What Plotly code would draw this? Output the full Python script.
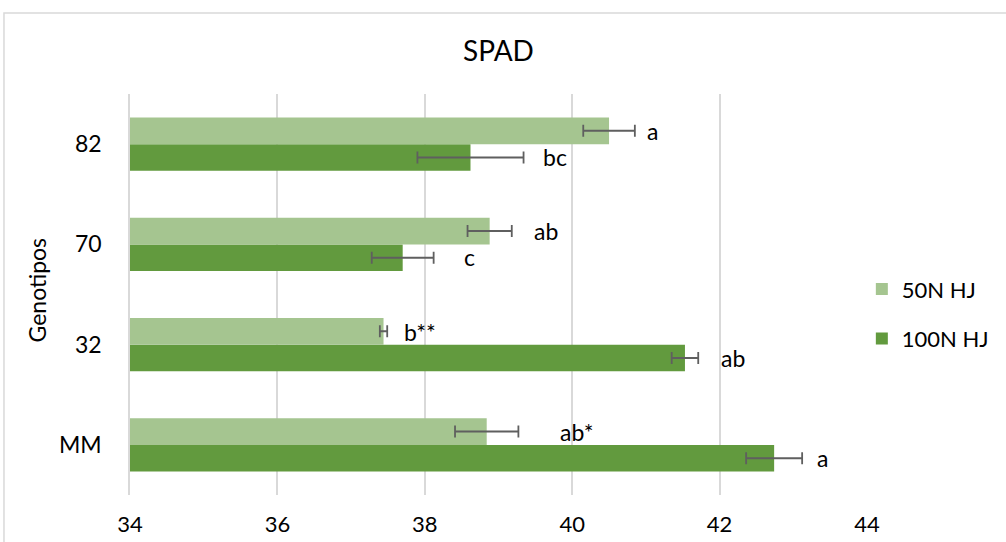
import plotly.graph_objects as go

# SPAD readings per genotype under two nitrogen treatments
genotypes = ["MM", "32", "70", "82"]
spad_50n = [38.84, 37.44, 38.88, 40.50]
spad_100n = [42.74, 41.53, 37.70, 38.62]
err_50n = [0.43, 0.05, 0.30, 0.35]
err_100n = [0.38, 0.18, 0.42, 0.72]
letters_50n = ["ab*", "b**", "ab", "a"]
letters_100n = ["a", "ab", "c", "bc"]
x_ticks = [34, 36, 38, 40, 42, 44]

FONT = "Lato, sans-serif"
LIGHT = "#A5C590"
DARK = "#629A3E"
ERR = "#5F5F5F"
GRID = "#D9D9D9"

fig = go.Figure()
fig.add_trace(go.Bar(
    y=genotypes, x=spad_100n, orientation="h", name="100N HJ",
    marker=dict(color=DARK, line=dict(width=0)), legendgroup="b", legendrank=2,
    error_x=dict(type="data", array=err_100n, color=ERR, thickness=1.8, width=6),
))
fig.add_trace(go.Bar(
    y=genotypes, x=spad_50n, orientation="h", name="50N HJ",
    marker=dict(color=LIGHT, line=dict(width=0)), legendgroup="a", legendrank=1,
    error_x=dict(type="data", array=err_50n, color=ERR, thickness=1.8, width=6),
))

# where each significance letter sits along the value axis
label_x_50n = [40.06, 37.93, 39.64, 41.09]
label_x_100n = [43.40, 42.18, 38.61, 39.77]
for i, (lx, t) in enumerate(zip(label_x_50n, letters_50n)):
    fig.add_annotation(x=lx, y=i, text=t, showarrow=False, yshift=13,
                       font=dict(family=FONT, size=23, color="#000000"))
for i, (lx, t) in enumerate(zip(label_x_100n, letters_100n)):
    fig.add_annotation(x=lx, y=i, text=t, showarrow=False, yshift=-13,
                       font=dict(family=FONT, size=23, color="#000000"))

fig.add_annotation(xref="paper", yref="paper", x=0, y=0.51, xshift=-93,
                   xanchor="center", yanchor="middle",
                   text="Genotipos", textangle=-90, showarrow=False,
                   font=dict(family=FONT, size=23, color="#000000"))

# outer chart frame
fig.add_shape(type="rect", xref="paper", yref="paper",
              x0=-0.171, x1=1.25, y0=-0.2, y1=1.202,
              line=dict(color=GRID, width=1.5), fillcolor="rgba(0,0,0,0)")

fig.update_layout(
    width=1006, height=542,
    margin=dict(l=130, r=139, t=94, b=47),
    paper_bgcolor="white", plot_bgcolor="white",
    barmode="group", bargap=0.467, bargroupgap=0,
    title=dict(text="SPAD", x=0.5, xref="paper", y=0.905, yref="container",
               xanchor="center", yanchor="middle",
               font=dict(family=FONT, size=28, color="#000000")),
    font=dict(family=FONT, color="#000000"),
    legend=dict(x=0.993, xanchor="left", y=0.451, yanchor="middle",
                traceorder="grouped", tracegroupgap=18,
                font=dict(family=FONT, size=22, color="#000000"),
                bgcolor="rgba(0,0,0,0)"),
    showlegend=True,
)
fig.update_xaxes(range=[34, 44], tickvals=x_ticks, showgrid=True, automargin=False,
                 gridcolor=GRID, gridwidth=1.5, zeroline=False, showline=False,
                 ticks="", ticklabelstandoff=14,
                 tickfont=dict(family=FONT, size=22, color="#000000"))
fig.update_yaxes(type="category", categoryorder="array", categoryarray=genotypes,
                 range=[-0.5, 3.5], autorange=False, automargin=False,
                 showgrid=False, zeroline=False, showline=True,
                 linecolor=GRID, linewidth=1.5, ticks="", ticklabelstandoff=22,
                 tickfont=dict(family=FONT, size=23, color="#000000"))

fig.write_html("out.html")
